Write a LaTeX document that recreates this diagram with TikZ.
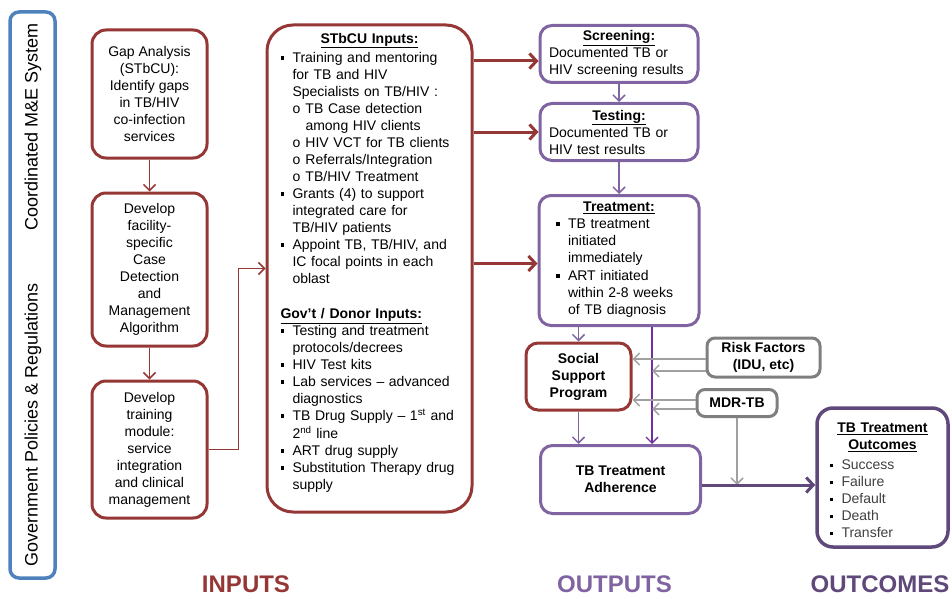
\documentclass[tikz,border=0pt]{standalone}
\usepackage{fontspec}
\setmainfont{Liberation Sans}
\usetikzlibrary{arrows.meta,positioning}

\definecolor{inred}{HTML}{953735}
\definecolor{outpurple}{HTML}{8064A2}
\definecolor{endpurple}{HTML}{5F497A}
\definecolor{linkviolet}{HTML}{7030A0}
\definecolor{mebblue}{HTML}{4F81BD}
\definecolor{riskgray}{HTML}{7F7F7F}
\definecolor{arrgray}{HTML}{A0A0A0}

\newcommand{\sqbul}{\raisebox{2.6pt}{\rule{3.8pt}{3.8pt}}}
\newcommand{\itm}[2][12pt]{\par\noindent\lineskip=0pt\makebox[#1][l]{\sqbul}%
    \parbox[t]{\dimexpr\linewidth-#1\relax}{\raggedright\strut #2\strut}}
\newcommand{\subitm}[1]{\par\noindent\lineskip=0pt\hspace*{12pt}\makebox[13pt][l]{o}%
    \parbox[t]{\dimexpr\linewidth-25pt\relax}{\raggedright\strut #1\strut}}
\newcommand{\boxhead}[1]{\makebox[\linewidth]{\textbf{\underline{#1}}}}

\tikzset{%
        boxtext/.style = {font=\fontsize{14}{17}\selectfont, align=center, fill=white},
        inbox/.style = {boxtext, draw=inred, line width=3pt, rounded corners=14pt},
        outbox/.style = {boxtext, draw=outpurple, line width=3pt, rounded corners=12pt},
        endbox/.style = {boxtext, draw=endpurple, line width=3.5pt, rounded corners=16pt},
        riskbox/.style = {boxtext, draw=riskgray, line width=3pt, rounded corners=8pt},
        sidebar/.style = {draw=mebblue, line width=3.5pt, rounded corners=9pt},
        sidetext/.style = {font=\fontsize{18}{21}\selectfont},
        colhead/.style = {font=\fontsize{24}{28}\selectfont\bfseries},
        redthin/.style = {draw=inred, line width=1.5pt, -{Straight Barb[length=6pt,width=12pt]}},
        redthick/.style = {draw=inred, line width=3pt, -{Straight Barb[length=7pt,width=15pt]}},
        purplethin/.style = {draw=outpurple, line width=1.5pt, -{Straight Barb[length=6pt,width=12pt]}},
        violetthin/.style = {draw=linkviolet, line width=1.3pt, -{Straight Barb[length=6pt,width=12pt]}},
        graythin/.style = {draw=arrgray, line width=1.5pt, -{Straight Barb[length=6pt,width=12pt]}},
        endthick/.style = {draw=endpurple, line width=3pt, -{Straight Barb[length=7pt,width=15pt]}}
}

\begin{document}
\begin{tikzpicture}[x=1pt, y=-1pt]
        \useasboundingbox (0,0) rectangle (952,599);

        \node[sidebar, minimum width=45pt, minimum height=566pt] (bar) at (32.5,295) {};
        \node[sidetext, rotate=90] (mesys) at (33,127) {Coordinated M\&E System};
        \node[sidetext, rotate=90] (govpol) at (33,425) {Government Policies \& Regulations};

        \node[inbox, minimum width=115pt, minimum height=128pt] (gap) at (149.5,94)
        {Gap Analysis\\(STbCU):\\Identify gaps\\in TB/HIV\\co-infection\\services};
        \node[inbox, minimum width=115pt, minimum height=153pt, below=32pt of gap] (algo)
        {Develop\\facility-\\specific\\Case\\Detection\\and\\Management\\Algorithm};
        \node[inbox, minimum width=115pt, minimum height=137pt, below=32pt of algo] (train)
        {Develop\\training\\module:\\service\\integration\\and clinical\\management};

        \node[inbox, rounded corners=26pt, minimum width=205pt, minimum height=487pt,
              text width=178pt, align=left, inner sep=0pt] (inputs) at (369.5,268.5) {%
            \boxhead{STbCU Inputs:}\par\vspace{2pt}
            \itm{Training and mentoring\\for TB and HIV\\Specialists on TB/HIV :}
            \subitm{TB Case detection\\among HIV clients}
            \subitm{HIV VCT for TB clients}
            \subitm{Referrals/Integration}
            \subitm{TB/HIV Treatment}
            \itm{Grants (4) to support\\integrated care for\\TB/HIV patients}
            \itm{Appoint TB, TB/HIV, and\\IC focal points in each\\oblast}
            \par\vspace{20pt}
            \noindent\textbf{\underline{Gov't / Donor Inputs:}}
            \itm{Testing and treatment\\protocols/decrees}
            \itm{HIV Test kits}
            \itm{Lab services -- advanced\\diagnostics}
            \itm{TB Drug Supply -- 1\textsuperscript{st} and\\2\textsuperscript{nd} line}
            \itm{ART drug supply}
            \itm{Substitution Therapy drug\\supply}
            \par\vspace{7pt}\noindent\rule{0pt}{1pt}};

        \node[outbox, minimum width=158pt, minimum height=57pt, text width=140pt, align=left,
              inner sep=0pt] (screen) at (619,54)
        {\boxhead{Screening:}\par Documented TB or\\HIV screening results};
        \node[outbox, minimum width=158pt, minimum height=57pt, text width=140pt, align=left,
              inner sep=0pt, below=18pt of screen] (test)
        {\boxhead{Testing:}\par Documented TB or\\HIV test results};
        \node[outbox, minimum width=160pt, minimum height=130pt, text width=126pt, align=left,
              inner sep=0pt, below=32pt of test] (treat) {%
            \boxhead{Treatment:}
            \itm{TB treatment\\initiated\\immediately}
            \itm{ART initiated\\within 2-8 weeks\\of TB diagnosis}};

        \node[inbox, rounded corners=12pt, font=\fontsize{14}{17}\selectfont\bfseries,
              minimum width=105pt, minimum height=67pt] (social) at (578.5,376.5)
        {Social\\Support\\Program};
        \node[outbox, font=\fontsize{14}{17}\selectfont\bfseries,
              minimum width=160pt, minimum height=68pt] (adh) at (620.5,479.5)
        {TB Treatment\\Adherence};
        \node[riskbox, font=\fontsize{14}{17}\selectfont\bfseries,
              minimum width=113pt, minimum height=39pt, inner sep=0pt] (risk) at (763.5,357.5)
        {Risk Factors\\(IDU, etc)};
        \node[riskbox, font=\fontsize{14}{17}\selectfont\bfseries,
              minimum width=80pt, minimum height=27pt, inner sep=0pt] (mdr) at (737,403) {MDR-TB};

        \node[endbox, minimum width=131pt, minimum height=139pt, text width=106pt, align=left,
              inner sep=0pt] (outc) at (882.5,477.5) {%
            \rule{0pt}{21pt}\boxhead{TB Treatment}\par\boxhead{Outcomes}\par\vspace{3pt}
            \itm{\textcolor{black!75}{Success}}
            \itm{\textcolor{black!75}{Failure}}
            \itm{\textcolor{black!75}{Default}}
            \itm{\textcolor{black!75}{Death}}
            \itm{\textcolor{black!75}{Transfer}}};

        \node[colhead, text=inred] (inlabel) at (246,584) {INPUTS};
        \node[colhead, text=outpurple] (outlabel) at (614.5,584) {OUTPUTS};
        \node[colhead, text=endpurple] (endlabel) at (880,584) {OUTCOMES};

        \coordinate (link) at (652,0);
        \coordinate (flow) at ([yshift=-5.5pt]adh.east);
        \coordinate (scrin) at ([yshift=-7pt]screen.west);
        \coordinate (trtin) at ([yshift=-3pt]treat.west);
        \coordinate (riska) at ([yshift=-1.5pt]risk.west);
        \coordinate (riskb) at ([yshift=-13.5pt]risk.west);
        \coordinate (mdra) at ([yshift=3pt]mdr.west);
        \coordinate (mdrb) at ([yshift=-6pt]mdr.west);

        \path
        (gap) edge[redthin] (algo)
        (algo) edge[redthin] (train)
        (screen) edge[purplethin] (test)
        (test) edge[purplethin] (treat)
        ;
        \draw[redthin] (train.east) -- ++(30,0) |- (inputs.west);
        \draw[redthick] (inputs.east |- scrin) -- (scrin);
        \draw[redthick] (inputs.east |- test.west) -- (test.west);
        \draw[redthick] (inputs.east |- trtin) -- (trtin);
        \draw[purplethin] (treat.south -| social.north) -- (social.north);
        \draw[purplethin] (social.south) -- (social.south |- adh.north);
        \draw[violetthin] (link |- treat.south) -- (link |- adh.north);
        \draw[graythin] (riska) -- (social.east |- riska);
        \draw[graythin] (riskb) -- (link |- riskb);
        \draw[graythin] (mdra) -- (social.east |- mdra);
        \draw[graythin] (mdrb) -- (link |- mdrb);
        \draw[graythin] (mdr.south) -- (mdr.south |- flow);
        \draw[endthick] (flow) -- (flow -| outc.west);
\end{tikzpicture}
\end{document}
